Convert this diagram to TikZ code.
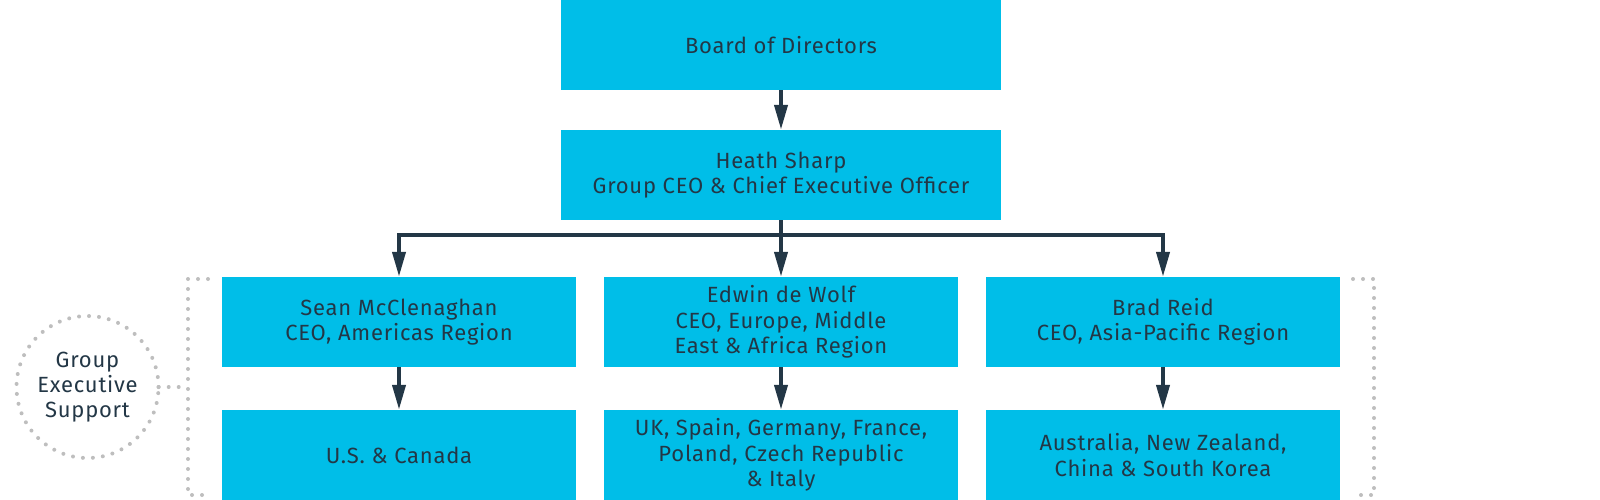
\documentclass[tikz,border=0pt]{standalone}
\usepackage{fontspec}
\setmainfont{Fira Sans}[LetterSpace=3.5]
\usetikzlibrary{arrows.meta}
\definecolor{boxcyan}{RGB}{0,190,232}
\definecolor{ink}{RGB}{35,55,70}
\definecolor{dotgray}{RGB}{190,190,190}
\begin{document}
\begin{tikzpicture}[x=1pt,y=-1pt,
  orgbox/.style={fill=boxcyan,draw=none,minimum width=354pt,minimum height=90pt,inner sep=0pt,align=center,text=ink,font=\fontsize{22}{25.5}\selectfont},
  topbox/.style={orgbox,minimum width=440pt},
  arr/.style={draw=ink,line width=4pt,line join=miter,-{Triangle[length=25pt,width=13pt]}},
  dots/.style={draw=dotgray,line width=4pt,line cap=round,dash pattern=on 0pt off 10pt}]
\useasboundingbox (0,0) rectangle (1600,500);
\node[topbox] (board) at (781,45) {Board of Directors};
\node[topbox] (heath) at (781,175) {Heath Sharp\\Group CEO \& Chief Executive Officer};
\node[orgbox] (sean) at (399,322) {Sean McClenaghan\\CEO, Americas Region};
\node[orgbox] (edwin) at (781,322) {Edwin de Wolf\\CEO, Europe, Middle\\East \& Africa Region};
\node[orgbox] (brad) at (1163,322) {Brad Reid\\CEO, Asia-Pacific Region};
\node[orgbox] (us) at (399,455) {U.S. \& Canada};
\node[orgbox] (eu) at (781,455) {UK, Spain, Germany, France,\\Poland, Czech Republic\\\& Italy};
\node[orgbox] (ap) at (1163,455) {Australia, New Zealand,\\China \& South Korea};
\draw[arr] (board.south) -- (heath.north);
\draw[arr] (heath.south) -- ++(0,15) -| (sean.north);
\draw[arr] (heath.south) -- ++(0,15) -| (brad.north);
\draw[arr] (heath.south) -- (edwin.north);
\draw[arr] (sean.south) -- (us.north);
\draw[arr] (edwin.south) -- (eu.north);
\draw[arr] (brad.south) -- (ap.north);
% group executive support
\node[circle,minimum size=142pt,inner sep=0pt,align=center,text=ink,font=\fontsize{22}{25}\selectfont] (ges) at (87.5,387) {Group\\Executive\\Support};
\draw[dots] (ges.center) circle[radius=71pt];
\coordinate (lt) at (208,279);
\coordinate (lv1) at (188,279);
\coordinate (lv2) at (188,495);
\coordinate (lb) at (208,495);
\coordinate (lm) at (188,387);
\draw[dots] (lt) -- (lv1) -- (lv2) -- (lb);
\draw[dots] (ges.east) -- (lm);
\coordinate (rt) at (1353,279);
\coordinate (rv1) at (1374,279);
\coordinate (rv2) at (1374,495);
\coordinate (rb) at (1353,495);
\draw[dots] (rt) -- (rv1) -- (rv2) -- (rb);
\end{tikzpicture}
\end{document}
